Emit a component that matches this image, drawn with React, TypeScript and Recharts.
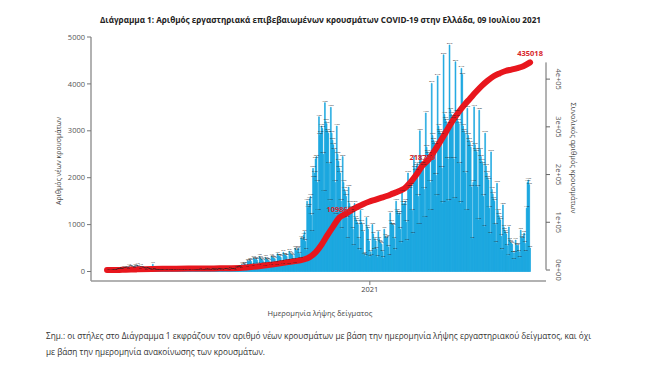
import React from 'react';
import { ComposedChart, Bar, Line, XAxis, YAxis, LabelList } from 'recharts';

// daily new cases by sample date, one array per month
const feb2020 = [1, 1, 2, 0];
const mar2020 = [1, 3, 2, 4, 12, 10, 14, 6, 30, 25, 22, 38, 45, 40, 25, 72, 60, 58, 70, 65, 52, 40, 110, 95, 88, 92, 80, 70, 45, 120, 105];
const apr2020 = [95, 130, 90, 70, 40, 110, 85, 75, 60, 50, 35, 20, 55, 45, 30, 28, 25, 20, 12, 155, 40, 25, 20, 18, 10, 8, 20, 15, 12, 14];
const may2020 = [10, 6, 3, 15, 12, 10, 9, 11, 5, 2, 14, 10, 8, 12, 7, 4, 3, 16, 9, 11, 8, 9, 5, 2, 12, 8, 10, 7, 9, 6, 3];
const jun2020 = [14, 9, 8, 11, 7, 5, 3, 18, 12, 14, 9, 10, 6, 4, 22, 16, 13, 12, 15, 8, 5, 28, 20, 22, 18, 17, 10, 6, 30, 24];
const jul2020 = [20, 18, 22, 14, 8, 32, 26, 24, 21, 25, 15, 9, 34, 30, 27, 28, 26, 18, 12, 45, 38, 35, 40, 36, 24, 16, 70, 62, 75, 80, 95];
const aug2020 = [70, 45, 150, 135, 140, 160, 150, 110, 70, 230, 210, 220, 240, 215, 130, 90, 290, 260, 250, 270, 240, 170, 110, 320, 280, 260, 250, 230, 160, 100, 300];
const sep2020 = [260, 250, 240, 230, 170, 110, 330, 300, 290, 280, 270, 190, 120, 380, 340, 330, 320, 300, 210, 130, 410, 360, 350, 340, 320, 220, 140, 430, 390, 370];
const oct2020 = [360, 340, 240, 160, 500, 450, 440, 470, 500, 380, 260, 720, 680, 700, 780, 850, 640, 450, 1500, 1350, 1400, 1550, 1600, 1200, 850, 2200, 2000, 2100, 2400, 2450, 1900];
const nov2020 = [1300, 3300, 2900, 2950, 3100, 3050, 2500, 1700, 3600, 3200, 3150, 3000, 2950, 2300, 1500, 3500, 2950, 2800, 2700, 2600, 1900, 1200, 3100, 2500, 2350, 2200, 2100, 1500, 900, 2450];
const dec2020 = [1900, 1750, 1700, 1600, 1150, 700, 1800, 1450, 1350, 1300, 1250, 900, 550, 1450, 1150, 1100, 1050, 1000, 700, 450, 1300, 1050, 1000, 850, 350, 380, 320, 1150, 950, 900, 650];
const jan2021 = [300, 420, 330, 1000, 800, 450, 700, 650, 480, 300, 850, 700, 620, 600, 580, 420, 280, 900, 750, 700, 720, 740, 520, 340, 1250, 1050, 1000, 1000, 980, 700, 450];
const feb2021 = [1500, 1300, 1250, 1200, 1250, 900, 600, 1700, 1450, 1400, 1450, 1500, 1050, 650, 2100, 1800, 1750, 1800, 1850, 1300, 800, 2450, 2200, 2150, 2250, 2300, 1600, 1000];
const mar2021 = [3000, 2450, 2350, 2300, 2250, 1750, 1150, 3380, 2650, 2550, 2500, 2450, 1900, 1300, 4010, 2900, 2800, 2750, 2700, 2050, 1600, 4170, 3100, 3000, 2950, 2900, 2200, 1450, 4620, 3350, 3250];
const apr2021 = [3200, 3150, 2400, 1500, 4830, 3450, 3350, 3300, 3250, 2400, 1550, 4470, 3400, 3300, 3200, 3150, 2300, 1450, 4330, 4200, 3100, 3000, 2950, 2100, 1300, 3480, 2900, 2800, 2750, 2650];
const may2021 = [1800, 700, 1900, 3510, 2700, 2600, 2550, 1800, 1100, 3440, 2600, 2450, 2350, 2300, 1600, 950, 2950, 2250, 2100, 2000, 1950, 1350, 800, 2550, 1750, 1650, 1550, 1500, 1000, 600, 1880];
const jun2021 = [1300, 1200, 1150, 1100, 750, 450, 1420, 950, 880, 850, 800, 550, 330, 950, 680, 620, 600, 580, 400, 250, 400, 670, 560, 550, 560, 420, 280, 880, 720, 700];
const jul2021 = [760, 820, 600, 420, 1350, 1900, 1950, 1850, 500];

const firstDay = '2020-02-26';
const months = [feb2020, mar2020, apr2020, may2020, jun2020, jul2020, aug2020, sep2020, oct2020, nov2020,
  dec2020, jan2021, feb2021, mar2021, apr2021, may2021, jun2021, jul2021];

// cumulative total (red line)
const cumDates = ['2020-02-26', '2020-03-15', '2020-04-01', '2020-05-01', '2020-06-01', '2020-07-01', '2020-08-01',
  '2020-09-01', '2020-10-01', '2020-10-15', '2020-10-22', '2020-10-29', '2020-11-05', '2020-11-12', '2020-11-19',
  '2020-11-26', '2020-12-03', '2020-12-10', '2020-12-17', '2020-12-24', '2020-12-31', '2021-01-07', '2021-01-14',
  '2021-01-21', '2021-01-28', '2021-02-04', '2021-02-11', '2021-02-18', '2021-02-25', '2021-03-04', '2021-03-11',
  '2021-03-18', '2021-03-25', '2021-04-01', '2021-04-08', '2021-04-15', '2021-04-22', '2021-04-29', '2021-05-06',
  '2021-05-13', '2021-05-20', '2021-05-27', '2021-06-03', '2021-06-10', '2021-06-17', '2021-06-24', '2021-07-01',
  '2021-07-09'];
const cumValues = [0, 300, 1300, 2600, 2950, 3400, 4300,
  10000, 17500, 22000, 27000, 37000, 53000, 73000, 92000,
  109868, 117000, 125000, 132000, 138000, 143000, 147000, 151000,
  155000, 160000, 165000, 171000, 184000, 200000, 218750, 231000,
  249000, 269000, 290000, 311000, 329000, 345000, 359000, 373000,
  386000, 397000, 406000, 412000, 417000, 420000, 423000, 427000,
  435018];
const labelledTotals = [109868, 218750, 435018];

const leftTicks = [0, 1000, 2000, 3000, 4000, 5000];
const rightTicks = [0, 100000, 200000, 300000, 400000];
const rightTickLabels = ['0e+00', '1e+05', '2e+05', '3e+05', '4e+05'];
const xTicks = ['2021-01-01'];

function addDays(iso: string, n: number) {
  const d = new Date(iso + 'T00:00:00Z');
  d.setUTCDate(d.getUTCDate() + n);
  return d.toISOString().slice(0, 10);
}

const data = months.flat().map((cases, i) => {
  const date = addDays(firstDay, i);
  const k = cumDates.indexOf(date);
  return { date, cases, cum: k >= 0 ? cumValues[k] : null };
});

const FONT = '"Open Sans", "Noto Sans", sans-serif';
const BLUE = '#17a6df';
const RED = '#e8161d';

const RightTick = (props: any) => {
  const { x, y, payload } = props;
  const i = rightTicks.indexOf(payload.value);
  const bx = x + 4;
  return (
    <text x={bx} y={y} transform={`rotate(90 ${bx} ${y})`} textAnchor="middle"
      fontSize={7.5} fill="#555" fontFamily={FONT}>
      {rightTickLabels[i]}
    </text>
  );
};

const TotalLabel = (props: any) => {
  const { value } = props;
  if (!labelledTotals.includes(value)) return null;
  const x = props.x ?? props.viewBox?.x;
  const y = props.y ?? props.viewBox?.y;
  return (
    <text x={x} y={y - 6} textAnchor="middle" fontSize={7.5} fontWeight={700}
      fill="#d8262c" fontFamily={FONT}>
      {value}
    </text>
  );
};

export default function App() {
  return (
    <div style={{ position: 'absolute', left: 0, top: 0, width: 650, height: 388, background: '#fff' }}>
      <ComposedChart
        width={650}
        height={388}
        data={data}
        barCategoryGap={0}
        barGap={0}
        margin={{ top: 37, right: 74, bottom: 87, left: 51 }}
      >
        <XAxis
          dataKey="date"
          ticks={xTicks}
          interval={0}
          tickFormatter={(d) => String(d).slice(0, 4)}
          padding={{ left: 15.6, right: 15.5 }}
          height={20}
          tickSize={4}
          axisLine={{ stroke: '#999', strokeWidth: 1.5 }}
          tickLine={{ stroke: '#777' }}
          tick={{ fontSize: 7.5, fill: '#444', fontFamily: FONT }}
        />
        <YAxis
          yAxisId="left"
          domain={[0, 5000]}
          ticks={leftTicks}
          width={40}
          tickSize={4}
          padding={{ top: 0, bottom: 9.5 }}
          axisLine={{ stroke: '#999', strokeWidth: 1.5 }}
          tickLine={{ stroke: '#777' }}
          tick={{ fontSize: 7.5, fill: '#555', fontFamily: FONT }}
        />
        <YAxis
          yAxisId="right"
          orientation="right"
          domain={[0, 400000]}
          ticks={rightTicks}
          width={30}
          tickSize={4}
          padding={{ top: 25.4, bottom: 11 }}
          axisLine={{ stroke: '#666', strokeDasharray: '0 25.4 207.3 40' }}
          tickLine={{ stroke: '#666' }}
          tick={<RightTick />}
        />
        <Bar yAxisId="left" dataKey="cases" fill={BLUE} stroke={BLUE} strokeWidth={0.6} isAnimationActive={false}>
          <LabelList dataKey="cases" position="top" offset={1} fontSize={2.8} fill="#222" />
        </Bar>
        <Line
          yAxisId="right"
          type="monotone"
          dataKey="cum"
          stroke={RED}
          strokeWidth={6}
          strokeLinecap="round"
          dot={false}
          connectNulls
          isAnimationActive={false}
        >
          <LabelList dataKey="cum" content={<TotalLabel />} />
        </Line>
      </ComposedChart>
      <svg width={650} height={388} style={{ position: 'absolute', left: 0, top: 0, pointerEvents: 'none' }}
        fontFamily={FONT}>
        <text x={320.5} y={23} textAnchor="middle" fontSize={9.5} fontWeight={700} fill="#222"
          textLength={441} lengthAdjust="spacingAndGlyphs">
          Διάγραμμα 1: Αριθμός εργαστηριακά επιβεβαιωμένων κρουσμάτων COVID-19 στην Ελλάδα, 09 Ιουλίου 2021
        </text>
        <text x={61} y={161} transform="rotate(-90 61 161)" textAnchor="middle" fontSize={7.5} fill="#444"
          textLength={88} lengthAdjust="spacingAndGlyphs">
          Αριθμός νέων κρουσμάτων
        </text>
        <text x={571} y={158} transform="rotate(90 571 158)" textAnchor="middle" fontSize={7.5} fill="#444"
          textLength={111} lengthAdjust="spacingAndGlyphs">
          Συνολικός αριθμός κρουσμάτων
        </text>
        <text x={320} y={316} textAnchor="middle" fontSize={8} fill="#444"
          textLength={105} lengthAdjust="spacingAndGlyphs">
          Ημερομηνία λήψης δείγματος
        </text>
        <text x={46} y={339} fontSize={8.5} fill="#333" textLength={545} lengthAdjust="spacingAndGlyphs">
          Σημ.: οι στήλες στο Διάγραμμα 1 εκφράζουν τον αριθμό νέων κρουσμάτων με βάση την ημερομηνία λήψης εργαστηριακού δείγματος, και όχι
        </text>
        <text x={46} y={355} fontSize={8.5} fill="#333" textLength={219} lengthAdjust="spacingAndGlyphs">
          με βάση την ημερομηνία ανακοίνωσης των κρουσμάτων.
        </text>
      </svg>
    </div>
  );
}
